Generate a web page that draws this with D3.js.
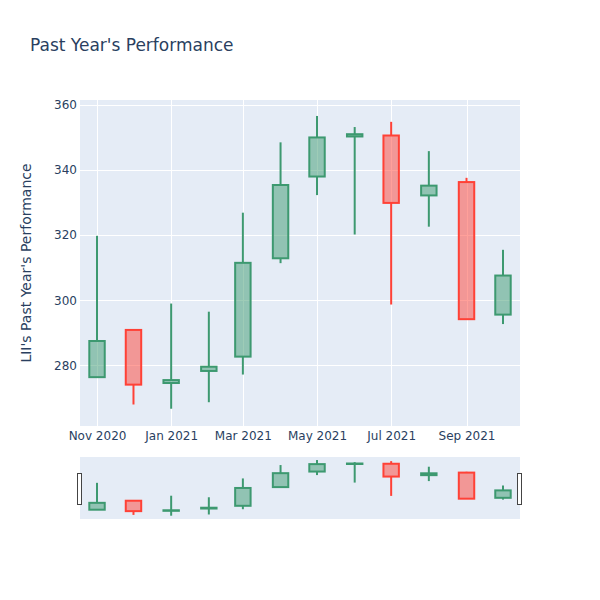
<!DOCTYPE html>
<html>
<head>
<meta charset="utf-8">
<script src="https://cdn.jsdelivr.net/npm/d3@7"></script>
<style>
  html, body { margin: 0; padding: 0; background: #fff; }
  svg { display: block; font-family: "DejaVu Sans", "Open Sans", Verdana, sans-serif; }
</style>
</head>
<body>
<div id="chart"></div>
<script>
// ---- data ----
const dates = ["2020-11-01","2020-12-01","2021-01-01","2021-02-01","2021-03-01","2021-04-01",
               "2021-05-01","2021-06-01","2021-07-01","2021-08-01","2021-09-01","2021-10-01"];
const openVals  = [276.4, 290.9, 274.6, 278.3, 282.7, 312.9, 338.0, 350.3, 350.6, 332.2, 336.3, 295.6];
const highVals  = [319.8, 290.9, 299.0, 296.5, 326.9, 348.5, 356.6, 353.2, 354.8, 345.8, 337.6, 315.5];
const lowVals   = [276.4, 268.0, 266.7, 268.7, 277.2, 311.4, 332.3, 320.2, 298.7, 322.6, 294.2, 292.7];
const closeVals = [287.5, 274.1, 275.5, 279.6, 311.5, 335.4, 350.0, 351.0, 329.9, 335.2, 294.2, 307.6];
const xTickDates  = ["2020-11-01","2021-01-01","2021-03-01","2021-05-01","2021-07-01","2021-09-01"];
const xTickLabels = ["Nov 2020","Jan 2021","Mar 2021","May 2021","Jul 2021","Sep 2021"];
const yTicks = [280, 300, 320, 340, 360];
const titleText = "Past Year's Performance";
const yTitleText = "LII's Past Year's Performance";

// ---- layout ----
const W = 600, H = 600;
const plot = {left: 80, right: 520, top: 100, bottom: 426};
const slider = {top: 457, bottom: 519};
const incLine = "#3D9970", incFill = "rgba(61,153,112,0.5)";
const decLine = "#FF4136", decFill = "rgba(255,65,54,0.5)";
const textColor = "#2a3f5f";
const bg = "#E5ECF6";

const parse = d3.utcParse("%Y-%m-%d");
const data = dates.map((d, i) => ({
  date: parse(d), open: openVals[i], high: highVals[i], low: lowVals[i], close: closeVals[i]
}));

const DAY = 864e5;
const xDomain = [new Date(data[0].date.getTime() - 14 * DAY), new Date(data[data.length-1].date.getTime() + 14 * DAY)];
const x = d3.scaleUtc().domain(xDomain).range([plot.left, plot.right]);
const yDomain = [261.4, 361.5];
const y = d3.scaleLinear().domain(yDomain).range([plot.bottom, plot.top]);
const ys = d3.scaleLinear().domain(yDomain).range([slider.bottom, slider.top]);
const halfDays = 6.35;

const svg = d3.select("#chart").append("svg").attr("width", W).attr("height", H);

// title
svg.append("text").attr("x", 30).attr("y", 51).attr("fill", textColor)
  .attr("font-size", 17).text(titleText);

// plot background
svg.append("rect").attr("x", plot.left).attr("y", plot.top)
  .attr("width", plot.right - plot.left).attr("height", plot.bottom - plot.top).attr("fill", bg);

// gridlines
const gx = svg.append("g");
xTickDates.forEach(d => {
  const px = Math.round(x(parse(d))) + 0.5;
  gx.append("line").attr("x1", px).attr("x2", px).attr("y1", plot.top).attr("y2", plot.bottom)
    .attr("stroke", "#fff").attr("stroke-width", 1);
});
yTicks.forEach(v => {
  const py = Math.round(y(v)) + 0.5;
  gx.append("line").attr("x1", plot.left).attr("x2", plot.right).attr("y1", py).attr("y2", py)
    .attr("stroke", "#fff").attr("stroke-width", 1);
});

// axes using d3 axis generators
const xAxis = d3.axisBottom(x).tickValues(xTickDates.map(parse))
  .tickFormat((d, i) => xTickLabels[i]).tickSize(0).tickPadding(5);
const xg = svg.append("g").attr("transform", `translate(0,${plot.bottom})`).call(xAxis);
xg.select(".domain").remove();
xg.selectAll("text").attr("fill", textColor).attr("font-size", 12).attr("font-family", "DejaVu Sans, sans-serif");

const yAxis = d3.axisLeft(y).tickValues(yTicks).tickSize(0).tickPadding(3);
const yg = svg.append("g").attr("transform", `translate(${plot.left},0)`).call(yAxis);
yg.select(".domain").remove();
yg.selectAll("text").attr("fill", textColor).attr("font-size", 12).attr("font-family", "DejaVu Sans, sans-serif");

// y title
svg.append("text").attr("transform", `translate(31,${(plot.top + plot.bottom) / 2}) rotate(-90)`)
  .attr("text-anchor", "middle").attr("fill", textColor).attr("font-size", 14).text(yTitleText);

// candles
function drawCandles(g, yScale) {
  data.forEach(d => {
    const inc = d.close >= d.open;
    const line = inc ? incLine : decLine, fill = inc ? incFill : decFill;
    const cx = x(d.date);
    const x0 = x(new Date(d.date.getTime() - halfDays * DAY));
    const x1 = x(new Date(d.date.getTime() + halfDays * DAY));
    const top = yScale(Math.max(d.open, d.close));
    const bot = yScale(Math.min(d.open, d.close));
    g.append("line").attr("x1", cx).attr("x2", cx).attr("y1", yScale(d.high)).attr("y2", top)
      .attr("stroke", line).attr("stroke-width", 2);
    g.append("line").attr("x1", cx).attr("x2", cx).attr("y1", bot).attr("y2", yScale(d.low))
      .attr("stroke", line).attr("stroke-width", 2);
    g.append("rect").attr("x", x0).attr("y", top).attr("width", x1 - x0)
      .attr("height", Math.max(bot - top, 0.5))
      .attr("fill", fill).attr("stroke", line).attr("stroke-width", 2);
  });
}
drawCandles(svg.append("g"), y);

// range slider
svg.append("rect").attr("x", plot.left).attr("y", slider.top)
  .attr("width", plot.right - plot.left).attr("height", slider.bottom - slider.top).attr("fill", bg);
drawCandles(svg.append("g"), ys);
const sh = Math.round((slider.bottom - slider.top) / 2);
const sy = slider.top + Math.round((slider.bottom - slider.top) / 4) + 0.5;
[plot.left, plot.right].forEach(px => {
  svg.append("rect").attr("x", px - 2.5).attr("y", sy).attr("width", 4).attr("height", sh)
    .attr("fill", "#fff").attr("stroke", "#444").attr("stroke-width", 1);
});
</script>
</body>
</html>
